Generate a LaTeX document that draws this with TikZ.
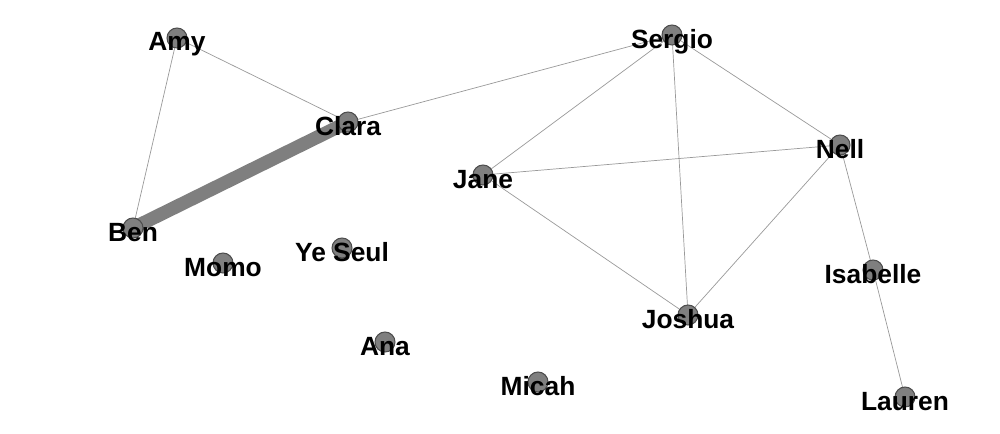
\documentclass[tikz,border=0pt]{standalone}
\usepackage{fontspec}
\setmainfont{Liberation Sans}
\usetikzlibrary{backgrounds}

\definecolor{dotgray}{HTML}{7F7F7F}
\definecolor{rimgray}{HTML}{4D4D4D}
\definecolor{linkgray}{HTML}{999999}

\tikzset{
	person/.style={circle, fill=dotgray, draw=rimgray, line width=0.6pt, minimum size=0.4cm, inner sep=0pt},
	tag/.style={anchor=base, yshift=-0.26cm, inner sep=0pt, font=\fontsize{15}{16}\selectfont\bfseries},
	link/.style={draw=linkgray, line width=0.4pt},
	heavylink/.style={draw=dotgray, line width=7.6pt}
}

\begin{document}
\begin{tikzpicture}[x=0.02cm, y=-0.02cm]
		\useasboundingbox (0,0) rectangle (1000,433);

		% people
		\node [person] (amy) at (177,38) {};
		\node [person] (clara) at (348,122) {};
		\node [person] (ben) at (133,228) {};
		\node [person] (momo) at (223,263) {};
		\node [person] (yeseul) at (342,248) {};
		\node [person] (ana) at (385,342) {};
		\node [person] (micah) at (538,382) {};
		\node [person] (jane) at (483,175) {};
		\node [person] (sergio) at (672,35) {};
		\node [person] (joshua) at (688,315) {};
		\node [person] (nell) at (840,145) {};
		\node [person] (isabelle) at (873,270) {};
		\node [person] (lauren) at (905,397) {};

		% ties, behind the dots
		\begin{scope}[on background layer]
			\draw [heavylink] (ben.center) -- (clara.center);
			\draw [link] (amy.center) -- (clara.center);
			\draw [link] (amy.center) -- (ben.center);
			\draw [link] (clara.center) -- (sergio.center);
			\draw [link] (sergio.center) -- (jane.center);
			\draw [link] (sergio.center) -- (joshua.center);
			\draw [link] (sergio.center) -- (nell.center);
			\draw [link] (jane.center) -- (nell.center);
			\draw [link] (jane.center) -- (joshua.center);
			\draw [link] (joshua.center) -- (nell.center);
			\draw [link] (nell.center) -- (isabelle.center);
			\draw [link] (isabelle.center) -- (lauren.center);
		\end{scope}

		% names
		\node [tag] at (amy) {Amy};
		\node [tag] at (clara) {Clara};
		\node [tag] at (ben) {Ben};
		\node [tag] at (momo) {Momo};
		\node [tag] at (yeseul) {Ye Seul};
		\node [tag] at (ana) {Ana};
		\node [tag] at (micah) {Micah};
		\node [tag] at (jane) {Jane};
		\node [tag] at (sergio) {Sergio};
		\node [tag] at (joshua) {Joshua};
		\node [tag] at (nell) {Nell};
		\node [tag] at (isabelle) {Isabelle};
		\node [tag] at (lauren) {Lauren};
	\end{tikzpicture}
\end{document}
